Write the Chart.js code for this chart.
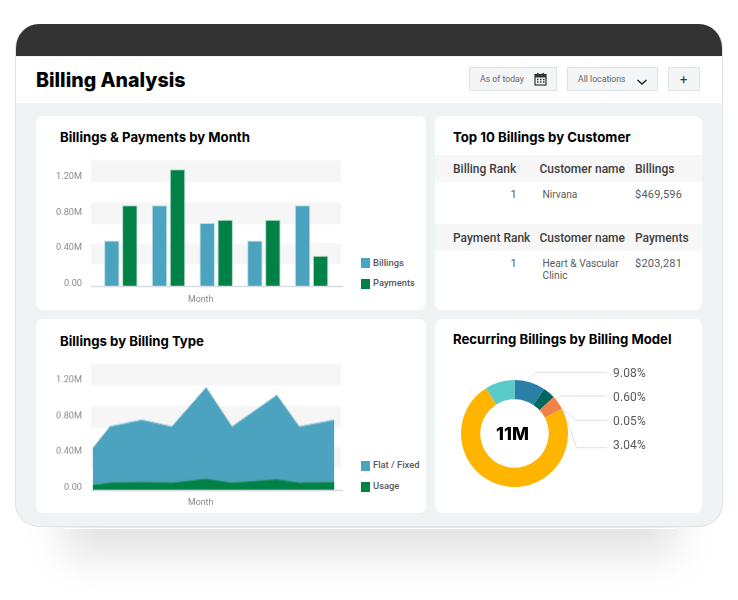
<!DOCTYPE html>
<html>
<head>
<meta charset="utf-8">
<title>Billing Analysis</title>
<script src="https://cdn.jsdelivr.net/npm/chart.js@4"></script>
<style>
html,body{margin:0;padding:0;width:738px;height:600px;overflow:hidden;background:#fff;font-family:Roboto,sans-serif}
#page div,#page span,#page canvas,#page svg{position:absolute}
.t{white-space:nowrap;transform:translateY(-50%);line-height:1}
#shadow{left:65px;top:470px;width:610px;height:85px;filter:blur(20px);background:#e2e2e2}
#shadowline{left:65px;top:528px;width:610px;height:1px;background:#fff}
#device{left:15px;top:24px;width:706px;height:502px;border:1px solid #dfe3e5;border-top:0;border-radius:24px;background:#f0f3f4;overflow:hidden}
#bar{left:0;top:0;width:706px;height:32px;background:#333}
#head{left:0;top:33px;width:706px;height:46px;background:#fff}
.card{background:#fff;border-radius:7px}
.title{font-family:Inter,sans-serif;font-weight:700;font-size:13.2px;color:#000}
.btn{background:#f3f5f6;border:1.5px solid #dce3e7;box-sizing:border-box}
.ctl{font-size:8.7px;color:#666}
.tick{font-size:8.8px;color:#8a8a8a}
.leg{font-size:9.4px;font-weight:500;color:#595959}
.th{font-size:12px;font-weight:500;color:#404040}
.td{font-size:10.2px;color:#5a5a5a}
.num{font-size:11px;color:#5a5a5a;letter-spacing:.2px}
.band{left:435px;width:267px;height:27px;background:#f7f7f7}
.pct{font-size:12px;color:#595959;letter-spacing:.15px}
</style>
</head>
<body>
<div id="page">
<div id="shadow"></div>
<div id="shadowline"></div>
<div id="device"><div id="bar"></div><div id="head"></div></div>

<div class="t" style="left:36px;top:81px;font-family:Inter,sans-serif;font-weight:800;font-size:19.6px;color:#000">Billing Analysis</div>

<div class="btn" style="left:469px;top:67px;width:88px;height:24px"></div>
<div class="t ctl" style="left:480px;top:79px">As of today</div>
<svg style="left:534px;top:72px" width="13" height="14" viewBox="0 0 13 14"><rect x="1" y="2.5" width="11" height="10.5" fill="none" stroke="#333" stroke-width="1.2"/><rect x="1" y="2.5" width="11" height="3" fill="#333"/><rect x="3" y="1" width="1.5" height="3" fill="#333"/><rect x="8.5" y="1" width="1.5" height="3" fill="#333"/><path d="M3 7.5h1.5M6 7.5h1.5M9 7.5h1.5M3 10h1.5M6 10h1.5M9 10h1.5" stroke="#333" stroke-width="1.3"/></svg>
<div class="btn" style="left:567px;top:67px;width:91px;height:24px"></div>
<div class="t ctl" style="left:578px;top:79px">All locations</div>
<svg style="left:636px;top:78px" width="12" height="8" viewBox="0 0 12 8"><path d="M1.5 2l4.5 4 4.5-4" fill="none" stroke="#222" stroke-width="1.4"/></svg>
<div class="btn" style="left:668px;top:67px;width:32px;height:24px"></div>
<div class="t" style="left:680px;top:79px;font-size:13px;color:#333">+</div>

<div class="card" style="left:36px;top:116px;width:390px;height:194px"></div>
<div class="card" style="left:435px;top:116px;width:267px;height:194px"></div>
<div class="card" style="left:36px;top:319px;width:390px;height:194px"></div>
<div class="card" style="left:435px;top:319px;width:267px;height:194px"></div>

<div class="t title" style="left:60px;top:137.5px">Billings &amp; Payments by Month</div>
<div class="t title" style="left:453px;top:137.5px">Top 10 Billings by Customer</div>
<div class="t title" style="left:60px;top:341.5px">Billings by Billing Type</div>
<div class="t title" style="left:453px;top:339.5px">Recurring Billings by Billing Model</div>

<canvas id="barChart" width="314" height="155" style="left:36px;top:150px"></canvas>
<canvas id="areaChart" width="314" height="155" style="left:36px;top:353px"></canvas>
<canvas id="donutChart" width="107" height="107" style="left:460.5px;top:380px"></canvas>

<div class="t tick" style="left:188px;top:299px">Month</div>
<div class="t tick" style="left:188px;top:502px">Month</div>
<div id="legends"></div>
<div id="table"></div>

<div class="t" style="left:496px;top:434px;font-family:Inter,sans-serif;font-weight:800;font-size:18px;color:#000">11M</div>
<svg style="left:0;top:0" width="738" height="600" fill="none" stroke="#dbe2e6" stroke-width="1">
<polyline points="529.3,379 536,372.3 606.7,372.3"/>
<polyline points="556.7,399 561.7,396 606.7,396"/>
<polyline points="561.7,409 576.7,420.3 607,420.3"/>
<polyline points="563.3,410 576.7,447.7 607,447.7"/>
</svg>
<div id="pcts"></div>
</div>

<script>
const months = ["Jan","Feb","Mar","Apr","May"]
const billings = [485000,880000,680000,485000,880000]
const payments = [880000,1280000,716000,716000,315000]

// month positions are uneven in the picture
const typeMonths = [0,0.49,1.4,2.26,3.24,3.98,5.26,5.9,6.9]
const flatFixed = [440000,680000,755000,680000,1115000,680000,1030000,680000,755000]
const usage = [30000,56000,64000,56000,100000,56000,94000,56000,64000]

const yTicks = [0,400000,800000,1200000]
const yTickLabels = ["0.00","0.40M","0.80M","1.20M"]
const yBottom = -28000
const yTop = 1378000
const bandRanges = [[1133000,1378000],[664000,910000],[218000,452000]]

const modelNames = ["Annual","Quarterly","Monthly","Other","Usage based"]
const modelShares = [9.3,3.8,4.3,73.7,8.9]
const modelLabels = ["9.08%","0.60%","0.05%","3.04%"]

const billingRows = [["Billing Rank","Customer name","Billings"],["1","Nirvana","$469,596"]]
const paymentRows = [["Payment Rank","Customer name","Payments"],["1","Heart & Vascular","$203,281"]]

const BLUE = "#4ba3bf"
const GREEN = "#008148"
const modelColors = ["#2a7fa6","#00665f","#f0824a","#ffb400","#5acbc8"]

function text(parent,cls,x,y,str){
  let d = document.createElement("div")
  d.className = "t "+cls
  d.style.left = x+"px"
  d.style.top = y+"px"
  d.textContent = str
  parent.appendChild(d)
  return d
}

function swatch(parent,x,y,color){
  let d = document.createElement("div")
  d.style.cssText = `left:${x}px;top:${y}px;width:9.5px;height:9.5px;background:${color}`
  parent.appendChild(d)
}

let legends = document.getElementById("legends")
swatch(legends,360.5,258,BLUE)
text(legends,"leg",373,263,"Billings")
swatch(legends,360.5,279,GREEN)
text(legends,"leg",373,283,"Payments")
swatch(legends,360.5,461,BLUE)
text(legends,"leg",373,465,"Flat / Fixed")
swatch(legends,360.5,482,GREEN)
text(legends,"leg",373,486,"Usage")

let table = document.getElementById("table")
function drawRows(rows,top){
  let band = document.createElement("div")
  band.className = "band"
  band.style.top = top+"px"
  table.appendChild(band)
  text(table,"th",453,top+14,rows[0][0])
  text(table,"th",539.5,top+14,rows[0][1])
  text(table,"th",635,top+14,rows[0][2])
  let rank = text(table,"num",517,top+39,rows[1][0])
  rank.style.transform = "translate(-100%,-50%)"
  text(table,"td",542.5,top+39.5,rows[1][1])
  text(table,"num",635,top+39,rows[1][2])
}
drawRows(billingRows,155)
drawRows(paymentRows,224)
text(table,"td",542.5,275.5,"Clinic")

let pcts = document.getElementById("pcts")
modelLabels.forEach((l,i)=>{
  text(pcts,"pct",613,373+i*24,l)
})

// grey bands and the base line sit a bit wider than the bars
const backdrop = {
  id:"backdrop",
  beforeDraw(chart){
    let c = chart.ctx
    let y = chart.scales.y
    c.save()
    c.fillStyle = "#f6f6f6"
    bandRanges.forEach(r=>{
      let top = y.getPixelForValue(r[1])
      let bottom = y.getPixelForValue(r[0])
      c.fillRect(55,top,250,bottom-top)
    })
    c.restore()
  },
  afterDatasetsDraw(chart){
    let c = chart.ctx
    c.save()
    c.strokeStyle = "#d5dde2"
    c.lineWidth = 1.5
    c.beginPath()
    c.moveTo(55,chart.chartArea.bottom)
    c.lineTo(307,chart.chartArea.bottom)
    c.stroke()
    c.restore()
  }
}

function yAxis(width,padding){
  return {
    min:yBottom,
    max:yTop,
    afterBuildTicks(scale){ scale.ticks = yTicks.map(v=>({value:v})) },
    afterFit(scale){ scale.width = width },
    grid:{display:false,drawTicks:false},
    border:{display:false},
    ticks:{
      autoSkip:false,
      padding:padding,
      color:"#8a8a8a",
      font:{family:"Roboto",size:9.2},
      callback:v=>yTickLabels[yTicks.indexOf(v)]
    }
  }
}

// the layout keeps more room above the plot than asked for, so size and move the canvas until the plot lands where it should
function placePlot(chart,top,bottom){
  for(let i=0;i<3;i++){
    let a = chart.chartArea
    chart.resize(chart.width,chart.height+(bottom-top)-(a.bottom-a.top))
  }
  chart.canvas.style.top = (top-chart.chartArea.top)+"px"
}

Chart.defaults.animation = false
Chart.defaults.plugins.legend.display = false
Chart.defaults.plugins.tooltip.enabled = false

let barChart = new Chart(document.getElementById("barChart"),{
  type:"bar",
  data:{
    labels:months,
    datasets:[
      {label:"Billings",data:billings,backgroundColor:BLUE,borderColor:"#bfdde6",borderWidth:1,base:yBottom},
      {label:"Payments",data:payments,backgroundColor:GREEN,borderColor:"#b5d9c8",borderWidth:1,base:yBottom}
    ]
  },
  options:{
    responsive:false,
    maintainAspectRatio:false,
    devicePixelRatio:1,
    layout:{autoPadding:false,padding:{top:0,right:14.6,left:0,bottom:0}},
    categoryPercentage:0.755,
    barPercentage:0.86,
    scales:{
      x:{
        afterFit(scale){ scale.height = 18 },
        grid:{display:false,drawTicks:false},
        border:{display:false},
        ticks:{display:false}
      },
      y:yAxis(61,15)
    }
  },
  plugins:[backdrop]
})
placePlot(barChart,161,287)

let areaChart = new Chart(document.getElementById("areaChart"),{
  type:"line",
  data:{
    datasets:[
      {label:"Usage",data:typeMonths.map((m,i)=>({x:m,y:usage[i]})),backgroundColor:GREEN,borderColor:"#2b9468",borderWidth:1,fill:"start",pointRadius:0,tension:0,order:1},
      {label:"Flat / Fixed",data:typeMonths.map((m,i)=>({x:m,y:flatFixed[i]})),backgroundColor:BLUE,borderColor:"#9fcbd9",borderWidth:1,fill:"start",pointRadius:0,tension:0,order:2}
    ]
  },
  options:{
    responsive:false,
    maintainAspectRatio:false,
    devicePixelRatio:1,
    layout:{autoPadding:false,padding:{top:0,right:9,left:0,bottom:0}},
    scales:{
      x:{
        type:"linear",
        min:-0.049,
        max:7.09,
        afterFit(scale){ scale.height = 18 },
        grid:{display:false,drawTicks:false},
        border:{display:false},
        ticks:{display:false}
      },
      y:yAxis(55,9)
    }
  },
  plugins:[backdrop]
})
placePlot(areaChart,364,490)

new Chart(document.getElementById("donutChart"),{
  type:"doughnut",
  data:{
    labels:modelNames,
    datasets:[{data:modelShares,backgroundColor:modelColors,borderWidth:0}]
  },
  options:{
    responsive:false,
    devicePixelRatio:1,
    cutout:"64%"
  }
})
</script>
</body>
</html>
